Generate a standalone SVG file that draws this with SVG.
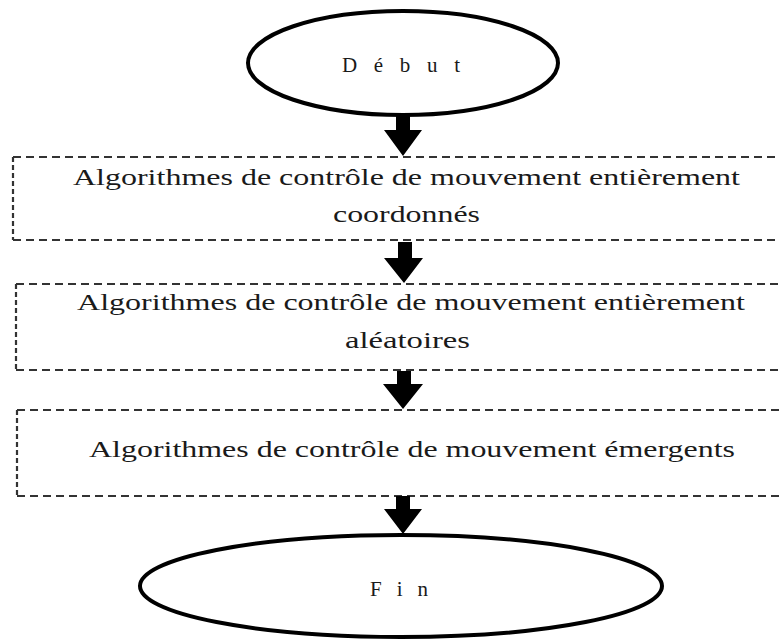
<svg xmlns="http://www.w3.org/2000/svg" width="779" height="639" viewBox="0 0 779 639">
  <defs>
    <style>
      .term { fill: #ffffff; stroke: #000000; stroke-width: 4; }
      .edge { fill: none; stroke: #333333; stroke-width: 2.2; }
      .edge-h { stroke-dasharray: 8 5; }
      .edge-v { stroke-dasharray: 5 3; }
      .lbl { font-family: "Liberation Serif", "DejaVu Serif", serif; fill: #1a1a1a; }
      .step { font-size: 24px; }
      .endpt { font-size: 21px; }
      .arrow { fill: #000000; }
    </style>
  </defs>
  <rect width="779" height="639" fill="#ffffff"/>

  <!-- start terminal -->
  <g id="debut">
    <ellipse class="term" cx="403" cy="63" rx="155" ry="52"/>
    <text class="lbl endpt" x="342" y="72" textLength="118" lengthAdjust="spacing">Début</text>
  </g>

  <!-- step 1 -->
  <g id="coordonnes">
    <line class="edge edge-h" x1="13" y1="157" x2="779" y2="157"/>
    <line class="edge edge-h" x1="13" y1="240" x2="779" y2="240"/>
    <line class="edge edge-v" x1="13" y1="157" x2="13" y2="240"/>
    <text class="lbl step" x="73" y="185" textLength="667" lengthAdjust="spacingAndGlyphs">Algorithmes de contrôle de mouvement entièrement</text>
    <text class="lbl step" x="333" y="222" textLength="147" lengthAdjust="spacingAndGlyphs">coordonnés</text>
  </g>

  <!-- step 2 -->
  <g id="aleatoires">
    <line class="edge edge-h" x1="16" y1="284" x2="779" y2="284"/>
    <line class="edge edge-h" x1="16" y1="370" x2="779" y2="370"/>
    <line class="edge edge-v" x1="16" y1="284" x2="16" y2="370"/>
    <text class="lbl step" x="77" y="310" textLength="668" lengthAdjust="spacingAndGlyphs">Algorithmes de contrôle de mouvement entièrement</text>
    <text class="lbl step" x="345" y="348" textLength="125" lengthAdjust="spacingAndGlyphs">aléatoires</text>
  </g>

  <!-- step 3 -->
  <g id="emergents">
    <line class="edge edge-h" x1="17" y1="410" x2="779" y2="410"/>
    <line class="edge edge-h" x1="17" y1="496" x2="779" y2="496"/>
    <line class="edge edge-v" x1="17" y1="410" x2="17" y2="496"/>
    <text class="lbl step" x="89" y="457" textLength="646" lengthAdjust="spacingAndGlyphs">Algorithmes de contrôle de mouvement émergents</text>
  </g>

  <!-- end terminal -->
  <g id="fin">
    <ellipse class="term" cx="401" cy="586" rx="261" ry="51"/>
    <text class="lbl endpt" x="370" y="596" textLength="58" lengthAdjust="spacing">Fin</text>
  </g>

  <!-- block arrows between the stages -->
  <g id="connectors">
    <polygon class="arrow" points="396,115 410,115 410,130 422,130 403,156 384,130 396,130"/>
    <polygon class="arrow" points="398,242 412,242 412,258 423,258 404,283 384,258 398,258"/>
    <polygon class="arrow" points="397,371 411,371 411,384 423,384 403,409 383,384 397,384"/>
    <polygon class="arrow" points="396,496 410,496 410,509 422,509 403,534 384,509 396,509"/>
  </g>
</svg>
